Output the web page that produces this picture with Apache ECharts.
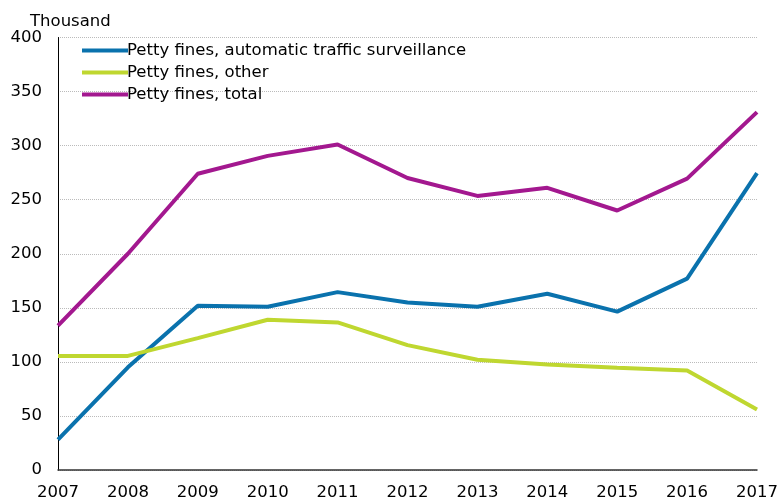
<!DOCTYPE html>
<html>
<head>
<meta charset="utf-8">
<script src="https://cdn.jsdelivr.net/npm/echarts@6/dist/echarts.min.js"></script>
<style>html,body{margin:0;padding:0;background:#fff}#c{width:782px;height:501px}</style>
</head>
<body>
<div id="c"></div>
<script>
const years = ['2007','2008','2009','2010','2011','2012','2013','2014','2015','2016','2017'];
const seriesNames = ['Petty fines, automatic traffic surveillance','Petty fines, other','Petty fines, total'];
const automatic = [28, 95, 152, 151, 164.5, 155, 151, 163, 146.5, 177, 274.5];
const other = [105.5, 105.5, 122, 139, 136.5, 115.5, 102, 97.5, 94.5, 92, 56];
const total = [133.5, 200, 274, 290.5, 301, 270, 253.5, 261, 240, 269.5, 331];
const yTicks = {min: 0, max: 400, interval: 50};
const unitLabel = 'Thousand';
const colors = ['#0a72ad', '#bfd730', '#a3188f'];

const chart = echarts.init(document.getElementById('c'), null, {renderer: 'canvas'});
const font = 'DejaVu Sans, Liberation Sans, sans-serif';
const fs = 16.5;
chart.setOption({
  animation: false,
  color: colors,
  title: {text: unitLabel, left: 25, top: 8, textStyle: {fontFamily: font, fontSize: fs, fontWeight: 'normal', color: '#000'}},
  grid: {left: 58, right: 25, top: 37.5, bottom: 30.5, containLabel: false},
  legend: {
    orient: 'vertical', left: 77, top: 37, itemGap: 5,
    icon: 'rect', itemWidth: 46, itemHeight: 4,
    textStyle: {fontFamily: font, fontSize: fs, color: '#000', padding: [0,0,0,-6]},
    data: seriesNames
  },
  xAxis: {
    type: 'category', data: years, boundaryGap: false,
    axisLine: {lineStyle: {color: '#333', width: 1.5}},
    axisTick: {show: false},
    axisLabel: {fontFamily: font, fontSize: fs, color: '#000', margin: 14, showMaxLabel: true, showMinLabel: true, interval: 0},
    splitLine: {show: false}
  },
  yAxis: {
    type: 'value', min: yTicks.min, max: yTicks.max, interval: yTicks.interval,
    axisLine: {show: true, lineStyle: {color: '#000', width: 1}},
    axisTick: {show: false},
    axisLabel: {fontFamily: font, fontSize: fs, color: '#000', margin: 16},
    splitLine: {lineStyle: {color: '#bbb', type: 'dotted', width: 1}}
  },
  series: [
    {name: seriesNames[0], type: 'line', data: automatic, symbol: 'none', lineStyle: {width: 4}},
    {name: seriesNames[1], type: 'line', data: other, symbol: 'none', lineStyle: {width: 4}},
    {name: seriesNames[2], type: 'line', data: total, symbol: 'none', lineStyle: {width: 4}}
  ]
});
</script>
</body>
</html>
